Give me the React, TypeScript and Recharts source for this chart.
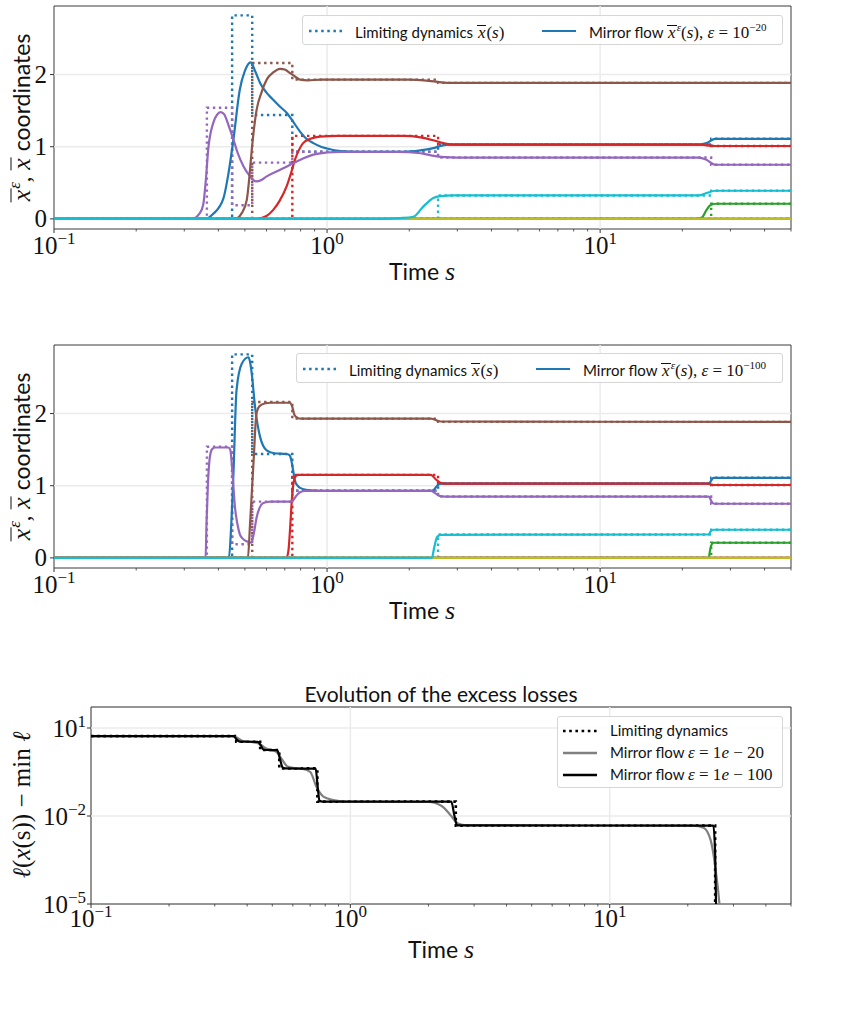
import React from 'react';
import { LineChart, Line, XAxis, YAxis, ReferenceLine, ReferenceArea } from 'recharts';

type Pt = [number, number];

const SANS = 'Lato, "Open Sans", sans-serif';
const SERIF = '"Liberation Serif", "DejaVu Serif", serif';

// breakpoints of the limiting (piecewise constant) dynamics
const LIM_S = [0.1, 0.363, 0.449, 0.532, 0.746, 2.55, 25.5, 50];
const limBlue = [0, 0, 2.82, 1.44, 0.93, 1.03, 1.11, 1.11];
const limOrange = [0, 0, 0, 0, 0, 0, 0, 0];
const limGreen = [0, 0, 0, 0, 0, 0, 0.21, 0.21];
const limRed = [0, 0, 0, 0, 1.15, 1.03, 1.01, 1.01];
const limPurple = [0, 1.54, 0.19, 0.78, 0.93, 0.85, 0.75, 0.75];
const limBrown = [0, 0, 0, 2.16, 1.93, 1.885, 1.885, 1.885];
const limPink = [0, 0, 0, 0, 0, 0, 0, 0];
const limGray = [0, 0, 0, 0, 0, 0, 0, 0];
const limOlive = [0, 0, 0, 0, 0, 0, 0, 0];
const limCyan = [0, 0, 0, 0, 0, 0.325, 0.39, 0.39];

const zeroFlow: Pt[] = [[0.1, 0], [50, 0]];

// mirror flow, eps = 1e-20
const mf20Blue: Pt[] = [[0.1, 0], [0.36, 0], [0.383, 0.07], [0.417, 0.28], [0.435, 0.62], [0.454, 1.1], [0.479, 1.79], [0.5, 2.05], [0.525, 2.17], [0.545, 2.05], [0.569, 1.88], [0.6, 1.75], [0.635, 1.65], [0.67, 1.56], [0.711, 1.47], [0.75, 1.35], [0.796, 1.21], [0.84, 1.11], [0.891, 1.05], [0.95, 1.0], [1.0, 0.975], [1.12, 0.94], [1.3, 0.93], [1.9, 0.93], [2.2, 0.95], [2.45, 0.98], [2.6, 1.01], [2.8, 1.03], [23, 1.03], [24.5, 1.05], [26.4, 1.11], [50, 1.11]];
const mf20Green: Pt[] = [[0.1, 0], [22.5, 0], [23.6, 0.02], [24.5, 0.12], [25.3, 0.19], [26.6, 0.21], [50, 0.21]];
const mf20Red: Pt[] = [[0.1, 0], [0.55, 0], [0.6, 0.04], [0.635, 0.125], [0.67, 0.25], [0.711, 0.45], [0.74, 0.65], [0.763, 0.82], [0.79, 0.96], [0.817, 1.05], [0.87, 1.11], [0.942, 1.14], [1.1, 1.15], [1.9, 1.15], [2.2, 1.13], [2.45, 1.09], [2.67, 1.05], [2.9, 1.03], [23, 1.03], [24.5, 1.02], [26.4, 1.01], [50, 1.01]];
const mf20Purple: Pt[] = [[0.1, 0], [0.32, 0], [0.342, 0.08], [0.352, 0.2], [0.36, 0.55], [0.367, 0.96], [0.383, 1.33], [0.395, 1.44], [0.408, 1.48], [0.42, 1.45], [0.429, 1.37], [0.44, 1.25], [0.454, 1.1], [0.47, 0.92], [0.494, 0.73], [0.52, 0.6], [0.549, 0.52], [0.575, 0.54], [0.601, 0.59], [0.673, 0.68], [0.751, 0.77], [0.82, 0.84], [0.891, 0.89], [1.0, 0.92], [1.12, 0.93], [1.8, 0.93], [2.2, 0.91], [2.4, 0.88], [2.7, 0.855], [3, 0.85], [23, 0.85], [24.5, 0.82], [26.4, 0.75], [50, 0.75]];
const mf20Brown: Pt[] = [[0.1, 0], [0.46, 0], [0.487, 0.08], [0.508, 0.26], [0.52, 0.6], [0.53, 0.96], [0.54, 1.25], [0.552, 1.51], [0.575, 1.75], [0.601, 1.93], [0.635, 2.03], [0.673, 2.08], [0.7, 2.07], [0.732, 2.02], [0.765, 1.97], [0.796, 1.93], [0.85, 1.92], [0.95, 1.93], [2.0, 1.93], [2.4, 1.91], [2.8, 1.885], [50, 1.885]];
const mf20Cyan: Pt[] = [[0.1, 0], [1.6, 0], [1.85, 0.01], [2.07, 0.03], [2.25, 0.17], [2.45, 0.29], [2.6, 0.315], [2.9, 0.325], [23, 0.325], [24.5, 0.357], [26.4, 0.39], [50, 0.39]];

// mirror flow, eps = 1e-100
const mf100Blue: Pt[] = [[0.1, 0], [0.437, 0], [0.445, 0.4], [0.454, 1.16], [0.466, 2.32], [0.487, 2.69], [0.515, 2.78], [0.522, 2.72], [0.53, 2.55], [0.545, 2.09], [0.569, 1.67], [0.601, 1.49], [0.64, 1.45], [0.711, 1.44], [0.73, 1.42], [0.74, 1.35], [0.752, 1.2], [0.763, 1.07], [0.78, 1.0], [0.796, 0.97], [0.85, 0.94], [0.95, 0.93], [2.4, 0.93], [2.47, 0.95], [2.53, 1.0], [2.6, 1.03], [25.0, 1.03], [25.5, 1.07], [26.0, 1.11], [50, 1.11]];
const mf100Green: Pt[] = [[0.1, 0], [25.0, 0], [25.2, 0.08], [25.5, 0.17], [26.0, 0.21], [50, 0.21]];
const mf100Red: Pt[] = [[0.1, 0], [0.71, 0], [0.722, 0.1], [0.732, 0.4], [0.74, 0.7], [0.75, 0.98], [0.763, 1.12], [0.78, 1.15], [2.4, 1.15], [2.5, 1.09], [2.6, 1.04], [2.7, 1.03], [25, 1.03], [25.5, 1.01], [50, 1.01]];
const mf100Purple: Pt[] = [[0.1, 0], [0.359, 0], [0.362, 0.5], [0.366, 1.0], [0.373, 1.42], [0.38, 1.51], [0.39, 1.53], [0.435, 1.53], [0.442, 1.5], [0.45, 1.2], [0.46, 0.7], [0.469, 0.48], [0.479, 0.33], [0.49, 0.27], [0.508, 0.23], [0.527, 0.21], [0.54, 0.35], [0.552, 0.56], [0.567, 0.7], [0.584, 0.76], [0.62, 0.78], [0.735, 0.78], [0.755, 0.81], [0.775, 0.87], [0.796, 0.91], [0.83, 0.93], [2.4, 0.93], [2.5, 0.89], [2.6, 0.855], [2.7, 0.85], [25.0, 0.85], [25.6, 0.78], [26.1, 0.75], [50, 0.75]];
const mf100Brown: Pt[] = [[0.1, 0], [0.513, 0], [0.522, 0.45], [0.53, 0.9], [0.541, 1.5], [0.547, 1.85], [0.553, 2.02], [0.565, 2.1], [0.59, 2.14], [0.62, 2.15], [0.73, 2.15], [0.745, 2.1], [0.76, 1.98], [0.78, 1.94], [0.8, 1.93], [2.4, 1.93], [2.6, 1.89], [50, 1.885]];
const mf100Cyan: Pt[] = [[0.1, 0], [2.42, 0], [2.47, 0.15], [2.53, 0.29], [2.6, 0.32], [25.0, 0.325], [25.4, 0.37], [26.0, 0.39], [50, 0.39]];

// excess losses
const lossLimit = [5.3, 3.4, 1.78, 0.42, 0.031, 0.0047, 1e-9, 1e-9];
const loss20: Pt[] = [[0.1, 5.3], [0.345, 5.3], [0.365, 4.7], [0.385, 3.6], [0.42, 3.3], [0.445, 2.9], [0.47, 2.1], [0.5, 1.75], [0.52, 1.5], [0.545, 0.85], [0.57, 0.5], [0.6, 0.44], [0.65, 0.41], [0.7, 0.32], [0.74, 0.1], [0.787, 0.046], [0.86, 0.035], [0.95, 0.031], [2.0, 0.03], [2.25, 0.022], [2.45, 0.01], [2.6, 0.0055], [2.8, 0.0048], [21, 0.0047], [23, 0.004], [24.5, 0.0015], [25.5, 0.0002], [26.5, 0.00001], [27.5, 1e-7]];
const loss100: Pt[] = [[0.1, 5.3], [0.355, 5.3], [0.365, 4.0], [0.375, 3.45], [0.44, 3.35], [0.452, 2.5], [0.462, 1.85], [0.475, 1.78], [0.522, 1.75], [0.535, 0.9], [0.548, 0.45], [0.56, 0.42], [0.735, 0.41], [0.748, 0.1], [0.76, 0.033], [0.78, 0.031], [2.45, 0.031], [2.52, 0.01], [2.58, 0.0048], [25.1, 0.0047], [25.5, 0.0005], [25.8, 1e-6], [26.2, 1e-9]];

const X_TICKS = [0.1, 0.2, 0.3, 0.4, 0.5, 0.6, 0.7, 0.8, 0.9, 1, 2, 3, 4, 5, 6, 7, 8, 9, 10, 20, 30, 40, 50];
const Y_TICKS = [0, 1, 2];
const LOSS_TICKS = [1e-5, 1e-2, 10];

const coords = [
  { color: '#1f77b4', lim: limBlue, mf20: mf20Blue, mf100: mf100Blue },
  { color: '#ff7f0e', lim: limOrange, mf20: zeroFlow, mf100: zeroFlow },
  { color: '#2ca02c', lim: limGreen, mf20: mf20Green, mf100: mf100Green },
  { color: '#d62728', lim: limRed, mf20: mf20Red, mf100: mf100Red },
  { color: '#9467bd', lim: limPurple, mf20: mf20Purple, mf100: mf100Purple },
  { color: '#8c564b', lim: limBrown, mf20: mf20Brown, mf100: mf100Brown },
  { color: '#e377c2', lim: limPink, mf20: zeroFlow, mf100: zeroFlow },
  { color: '#7f7f7f', lim: limGray, mf20: zeroFlow, mf100: zeroFlow },
  { color: '#bcbd22', lim: limOlive, mf20: zeroFlow, mf100: zeroFlow },
  { color: '#17becf', lim: limCyan, mf20: mf20Cyan, mf100: mf100Cyan },
];

const rows = (pts: Pt[]) => pts.map(([s, v]) => ({ s, v }));
const stepRows = (vals: number[]) => LIM_S.map((s, i) => ({ s, v: vals[i] }));

const expText = (e: number) => (e < 0 ? '\u2212' + Math.abs(e) : String(e));

const makeXTick = (labelDy: number) => (props: any) => {
  const { x, y, payload } = props;
  const e = Math.log10(payload.value);
  const major = Math.abs(e - Math.round(e)) < 1e-6;
  return (
    <g>
      <line x1={x} x2={x} y1={y} y2={y + (major ? 4 : 2.5)} stroke="#333" strokeWidth={major ? 1 : 0.8} />
      {major && (
        <text x={x} y={y + labelDy} textAnchor="middle" fontFamily={SERIF} fontSize={25} fill="#111">
          10<tspan dy={-10} fontSize={17}>{expText(Math.round(e))}</tspan>
        </text>
      )}
    </g>
  );
};

const LinYTick = (props: any) => {
  const { x, y, payload } = props;
  return (
    <g>
      <line x1={x - 4} x2={x} y1={y} y2={y} stroke="#333" />
      <text x={x - 7} y={y + 8} textAnchor="end" fontFamily={SERIF} fontSize={25} fill="#111">
        {payload.value}
      </text>
    </g>
  );
};

const LogYTick = (props: any) => {
  const { x, y, payload } = props;
  const e = Math.round(Math.log10(payload.value));
  return (
    <g>
      <line x1={x - 4} x2={x} y1={y} y2={y} stroke="#333" />
      <text x={x - 5} y={y + 9} textAnchor="end" fontFamily={SERIF} fontSize={25} fill="#111">
        10<tspan dy={-10} fontSize={17}>{expText(e)}</tspan>
      </text>
    </g>
  );
};

const xbar = (sup?: string) => (
  <span style={{ fontFamily: SERIF, fontStyle: 'italic' }}>
    <span
      style={{
        display: 'inline-block', borderTop: '1.5px solid currentColor', lineHeight: 0.6,
        paddingTop: 2, paddingLeft: 1, paddingRight: 1,
      }}
    >
      x
    </span>
    {sup && <sup style={{ fontSize: '0.65em' }}>{sup}</sup>}
  </span>
);

function TrajLegend({ left, top, width, eps }: { left: number; top: number; width: number; eps: string }) {
  return (
    <div
      style={{
        position: 'absolute', left, top, width, height: 30, boxSizing: 'border-box',
        border: '1px solid #d6d6d6', borderRadius: 3, background: 'rgba(255,255,255,0.85)',
        fontFamily: SANS, fontSize: 15, color: '#111',
      }}
    >
      <svg style={{ position: 'absolute', left: 6, top: 10 }} width={36} height={10}>
        <line x1={0} x2={34} y1={5} y2={5} stroke="#1f77b4" strokeWidth={2.5} strokeDasharray="2.5 3.6" />
      </svg>
      <div style={{ position: 'absolute', left: 52, top: 5, whiteSpace: 'nowrap' }}>
        Limiting dynamics <span style={{ fontSize: 17 }}>{xbar()}<span style={{ fontFamily: SERIF }}>(<i>s</i>)</span></span>
      </div>
      <svg style={{ position: 'absolute', left: 239, top: 10 }} width={36} height={10}>
        <line x1={0} x2={34} y1={5} y2={5} stroke="#1f77b4" strokeWidth={2.2} />
      </svg>
      <div style={{ position: 'absolute', left: 286, top: 5, whiteSpace: 'nowrap' }}>
        Mirror flow{' '}
        <span style={{ fontSize: 17 }}>
          {xbar('\u03b5')}
          <span style={{ fontFamily: SERIF }}>
            (<i>s</i>), <i>{'\u03b5'}</i> = 10<sup style={{ fontSize: '0.65em' }}>{eps}</sup>
          </span>
        </span>
      </div>
    </div>
  );
}

function TrajChart({ top, flow, eps, legendLeft }: { top: number; flow: 'mf20' | 'mf100'; eps: string; legendLeft: number }) {
  return (
    <div style={{ position: 'absolute', left: 0, top, width: 844, height: 300 }}>
      <LineChart width={844} height={300} margin={{ top: 6, right: 53, left: 0, bottom: 0 }}>
        <XAxis
          dataKey="s" type="number" scale="log" domain={[0.1, 50]} allowDataOverflow
          ticks={X_TICKS} interval={0} tickSize={0} tickMargin={0} axisLine={false}
          tick={makeXTick(25)} height={71}
        />
        <YAxis
          type="number" domain={[-0.14, 2.95]} allowDataOverflow ticks={Y_TICKS} interval={0}
          tickSize={0} tickMargin={0} axisLine={false} tick={LinYTick} width={54}
        />
        {Y_TICKS.map((t) => (
          <ReferenceLine key={'gy' + t} y={t} stroke="#ebebeb" strokeWidth={1.5} />
        ))}
        <ReferenceLine x={1} stroke="#ebebeb" strokeWidth={1.5} />
        <ReferenceLine x={10} stroke="#ebebeb" strokeWidth={1.5} />
        {coords.map((c, i) => (
          <Line
            key={'lim' + i} data={stepRows(c.lim)} dataKey="v" type="stepAfter" stroke={c.color}
            strokeWidth={2.4} strokeDasharray="2.4 3.6" dot={false} activeDot={false} isAnimationActive={false}
          />
        ))}
        {coords.map((c, i) => (
          <Line
            key={'mf' + i} data={rows(c[flow])} dataKey="v" type="monotone" stroke={c.color}
            strokeWidth={2.2} dot={false} activeDot={false} isAnimationActive={false}
          />
        ))}
        <ReferenceArea x1={0.1} x2={50} y1={-0.14} y2={2.95} fill="none" stroke="#3a3a3a" strokeWidth={1} />
      </LineChart>
      <TrajLegend left={legendLeft} top={top === 0 ? 15 : 14} width={783 - legendLeft} eps={eps} />
      <div
        style={{
          position: 'absolute', left: 20, top: 118, transform: 'translate(-50%, -50%) rotate(-90deg)',
          whiteSpace: 'nowrap', fontFamily: SANS, fontSize: 23, color: '#111',
        }}
      >
        <span style={{ fontSize: 26 }}>{xbar('\u03b5')}</span>
        <span style={{ fontFamily: SERIF }}>, </span>
        <span style={{ fontSize: 26 }}>{xbar()}</span> coordinates
      </div>
      <div
        style={{
          position: 'absolute', left: 422, top: 272, transform: 'translate(-50%, -50%)',
          whiteSpace: 'nowrap', fontFamily: SANS, fontSize: 23, color: '#111',
        }}
      >
        Time <i style={{ fontFamily: SERIF, fontSize: 26 }}>s</i>
      </div>
    </div>
  );
}

function LossChart({ top }: { top: number }) {
  return (
    <div style={{ position: 'absolute', left: 0, top, width: 844, height: 320 }}>
      <LineChart width={844} height={300} margin={{ top: 47, right: 53, left: 0, bottom: 0 }}>
        <XAxis
          dataKey="s" type="number" scale="log" domain={[0.1, 50]} allowDataOverflow
          ticks={X_TICKS} interval={0} tickSize={0} tickMargin={0} axisLine={false}
          tick={makeXTick(23)} height={56}
        />
        <YAxis
          type="number" scale="log" domain={[1e-5, 52]} allowDataOverflow ticks={LOSS_TICKS} interval={0}
          tickSize={0} tickMargin={0} axisLine={false} tick={LogYTick} width={91}
        />
        <ReferenceLine y={10} stroke="#ebebeb" strokeWidth={1.5} />
        <ReferenceLine y={1e-2} stroke="#ebebeb" strokeWidth={1.5} />
        <ReferenceLine x={1} stroke="#ebebeb" strokeWidth={1.5} />
        <ReferenceLine x={10} stroke="#ebebeb" strokeWidth={1.5} />
        <Line
          data={stepRows(lossLimit)} dataKey="v" type="stepAfter" stroke="#000" strokeWidth={2.6}
          strokeDasharray="2.6 3.6" dot={false} activeDot={false} isAnimationActive={false}
        />
        <Line
          data={rows(loss20)} dataKey="v" type="monotone" stroke="#808080" strokeWidth={2.2}
          dot={false} activeDot={false} isAnimationActive={false}
        />
        <Line
          data={rows(loss100)} dataKey="v" type="monotone" stroke="#000" strokeWidth={2.2}
          dot={false} activeDot={false} isAnimationActive={false}
        />
        <ReferenceArea x1={0.1} x2={50} y1={1e-5} y2={52} fill="none" stroke="#2a2a2a" strokeWidth={1} />
      </LineChart>
      <div
        style={{
          position: 'absolute', left: 441, top: 33, transform: 'translate(-50%, -50%)',
          whiteSpace: 'nowrap', fontFamily: SANS, fontSize: 21, color: '#111',
        }}
      >
        Evolution of the excess losses
      </div>
      <div
        style={{
          position: 'absolute', left: 557, top: 56, width: 226, height: 72, boxSizing: 'border-box',
          border: '1px solid #d6d6d6', borderRadius: 3, background: 'rgba(255,255,255,0.85)',
          fontFamily: SANS, fontSize: 15, color: '#111',
        }}
      >
        {[
          { stroke: '#000', dash: '2.6 3.6', label: 'Limiting dynamics', eps: '' },
          { stroke: '#808080', dash: undefined, label: 'Mirror flow ', eps: '20' },
          { stroke: '#000', dash: undefined, label: 'Mirror flow ', eps: '100' },
        ].map((it, i) => (
          <div key={i} style={{ position: 'absolute', left: 0, top: 4 + i * 22, height: 20, width: 224 }}>
            <svg style={{ position: 'absolute', left: 5, top: 5 }} width={36} height={10}>
              <line x1={0} x2={34} y1={5} y2={5} stroke={it.stroke} strokeWidth={2.4} strokeDasharray={it.dash} />
            </svg>
            <div style={{ position: 'absolute', left: 52, top: 0, whiteSpace: 'nowrap' }}>
              {it.label}
              {it.eps && (
                <span style={{ fontFamily: SERIF, fontSize: 17 }}>
                  <i>{'\u03b5'}</i> = 1<i>e</i> {'\u2212'} {it.eps}
                </span>
              )}
            </div>
          </div>
        ))}
      </div>
      <div
        style={{
          position: 'absolute', left: 22, top: 145, transform: 'translate(-50%, -50%) rotate(-90deg)',
          whiteSpace: 'nowrap', fontFamily: SERIF, fontSize: 25, color: '#111',
        }}
      >
        <i>{'\u2113'}</i>(<i>x</i>(s)) {'\u2212'} min <i>{'\u2113'}</i>
      </div>
      <div
        style={{
          position: 'absolute', left: 441, top: 290, transform: 'translate(-50%, -50%)',
          whiteSpace: 'nowrap', fontFamily: SANS, fontSize: 23, color: '#111',
        }}
      >
        Time <i style={{ fontFamily: SERIF, fontSize: 26 }}>s</i>
      </div>
    </div>
  );
}

export default function App() {
  return (
    <div style={{ position: 'absolute', left: 0, top: 0, width: 844, height: 1015, background: '#fff', overflow: 'hidden' }}>
      <TrajChart top={0} flow="mf20" eps={'\u221220'} legendLeft={302} />
      <TrajChart top={339} flow="mf100" eps={'\u2212100'} legendLeft={296} />
      <LossChart top={660} />
    </div>
  );
}
